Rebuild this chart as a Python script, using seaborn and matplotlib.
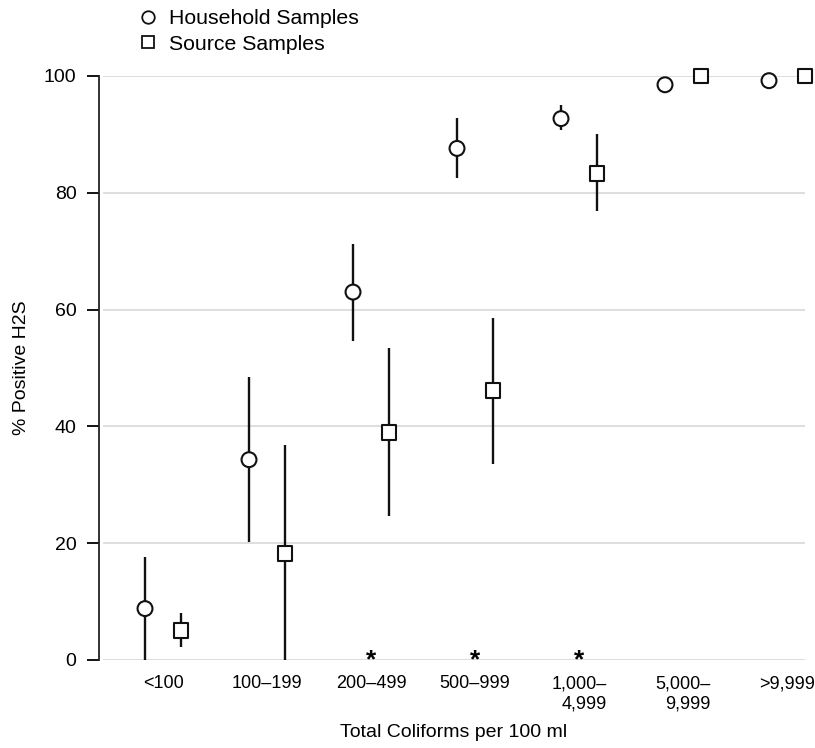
import numpy as np
import pandas as pd
import matplotlib.pyplot as plt
from matplotlib.lines import Line2D
import seaborn as sns

categories = ['<100', '100–199', '200–499', '500–999',
              '1,000–\n4,999', '5,000–\n9,999', '>9,999']
household_pct = [8.8, 34.3, 63.0, 87.6, 92.7, 98.5, 99.2]
household_lo = [0.0, 20.2, 54.6, 82.5, 90.8, np.nan, np.nan]
household_hi = [17.7, 48.5, 71.3, 92.8, 95.0, np.nan, np.nan]
source_pct = [5.1, 18.2, 39.0, 46.2, 83.3, 100.0, 100.0]
source_lo = [2.2, 0.0, 24.7, 33.6, 76.8, np.nan, np.nan]
source_hi = [8.0, 36.8, 53.4, 58.6, 90.0, np.nan, np.nan]
significant = ['200–499', '500–999', '1,000–\n4,999']

sns.set_style('white')
plt.rcParams['font.family'] = ['Liberation Sans', 'DejaVu Sans']
plt.rcParams['text.color'] = 'black'
plt.rcParams['axes.labelcolor'] = 'black'
plt.rcParams['xtick.color'] = 'black'
plt.rcParams['ytick.color'] = 'black'

idx = np.arange(len(categories))
off = 0.173
df = pd.concat([
    pd.DataFrame({'x': idx - off, 'pct': household_pct, 'lo': household_lo,
                  'hi': household_hi, 'series': 'Household Samples'}),
    pd.DataFrame({'x': idx + off, 'pct': source_pct, 'lo': source_lo,
                  'hi': source_hi, 'series': 'Source Samples'}),
], ignore_index=True)

fig = plt.figure(figsize=(8.15, 7.48), dpi=100)
ax = fig.add_axes([103 / 815, 88 / 748, 702 / 815, 584 / 748])

ax.grid(axis='y', color='#d8d8d8', lw=1.2)
ax.set_axisbelow(True)

ci = df.dropna()
ax.vlines(ci['x'], ci['lo'], ci['hi'], color='#111111', lw=1.7, zorder=2)
sns.scatterplot(data=df, x='x', y='pct', style='series',
                markers={'Household Samples': 'o', 'Source Samples': 's'},
                color='white', edgecolor='#111111', linewidth=1.5, s=115,
                legend=False, zorder=3, clip_on=False, ax=ax)

for lab in significant:
    ax.text(categories.index(lab), -0.1, '*', ha='center', va='center',
            fontsize=19, fontweight='bold')

ax.set_xlim(-0.577, 6.173)
ax.set_ylim(0, 100)
ax.set_yticks([0, 20, 40, 60, 80, 100])
ax.set_xticks(idx)
ax.set_xticklabels(categories, fontsize=13, multialignment='right',
                   linespacing=1.25)
ax.tick_params(axis='x', length=0, pad=11)
ax.tick_params(axis='y', length=9, width=1.3, pad=7, labelsize=14, left=True)

for s in ['top', 'right', 'bottom']:
    ax.spines[s].set_visible(False)
ax.spines['left'].set_position(('outward', 3))
ax.spines['left'].set_linewidth(1.3)
ax.spines['left'].set_color('#222222')

ax.set_xlabel('Total Coliforms per 100 ml', fontsize=14, labelpad=8)
ax.set_ylabel('% Positive H2S', fontsize=14, labelpad=10)

handles = [
    Line2D([], [], marker='o', ls='none', mfc='white', mec='#111111', mew=1.3, ms=9),
    Line2D([], [], marker='s', ls='none', mfc='white', mec='#111111', mew=1.3, ms=9),
]
fig.legend(handles, ['Household Samples', 'Source Samples'], loc='upper left',
           bbox_to_anchor=(125 / 815, 1.005), frameon=False, fontsize=15.3,
           handlelength=1.0, handletextpad=0.45, labelspacing=0.32,
           borderaxespad=0.2)

fig.savefig('out.png', dpi=100)
